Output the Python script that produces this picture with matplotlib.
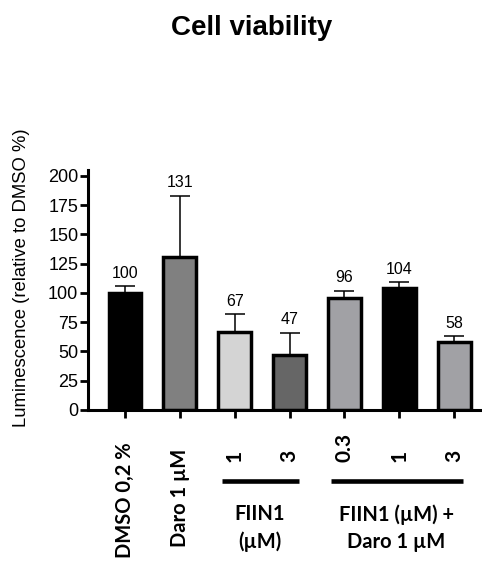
import matplotlib.pyplot as plt
from matplotlib import transforms
import numpy as np

# data
conditions = ["DMSO 0,2 %", "Daro 1 \u00b5M", "1", "3", "0.3", "1", "3"]
means = [100, 131, 67, 47, 96, 104, 58]
sd_up = [6, 52, 15, 19, 6, 5, 5]
bar_colors = ["#000000", "#808080", "#d4d4d4", "#666666", "#a1a1a5", "#000000", "#a1a1a5"]
groups = [("FIIN1\n(\u00b5M)", 2, 3), ("FIIN1 (\u00b5M) +\nDaro 1 \u00b5M", 4, 6)]
y_ticks = [0, 25, 50, 75, 100, 125, 150, 175, 200]

plt.rcParams['font.family'] = ['Liberation Sans', 'DejaVu Sans']
LABEL_FONT = ['Lato', 'DejaVu Sans']

fig = plt.figure(figsize=(4.82, 5.61), dpi=100)
ax = fig.add_axes([88/482, 1 - 410/561, 393/482, 240/561])

x = np.arange(len(means))
ax.bar(x, means, width=0.6, color=bar_colors, edgecolor="black", linewidth=2.5, zorder=2)
ax.errorbar(x, means, yerr=[np.zeros(len(means)), sd_up], fmt="none", ecolor="black",
            elinewidth=1.1, capsize=7.5, capthick=1.1, zorder=1)

for xi, m, e in zip(x, means, sd_up):
    ax.annotate(str(m), (xi, m + e), xytext=(0, 6), textcoords="offset points",
                ha="center", va="baseline", fontsize=11.5)

ax.set_xlim(-0.675, 6.49)
ax.set_ylim(0, 205)
ax.set_yticks(y_ticks)
ax.set_xticks(x)
ax.set_xticklabels([])
ax.tick_params(axis="y", labelsize=13, length=6, width=2, pad=1)
ax.tick_params(axis="x", length=6, width=2)
for s in ["top", "right"]:
    ax.spines[s].set_visible(False)
for s in ["left", "bottom"]:
    ax.spines[s].set_linewidth(2.2)

ax.set_ylabel("Luminescence (relative to DMSO %)", fontsize=13.3)
ax.yaxis.set_label_coords(-0.148, 0.55)

# condition labels below the axis
trans = transforms.blended_transform_factory(ax.transData, ax.transAxes)
for i, lab in enumerate(conditions):
    if i < 2:
        off = transforms.ScaledTranslation(0, -(32 + 7 * i) / 100, fig.dpi_scale_trans)
        ax.text(x[i], 0, lab, rotation=90, ha="center", va="top", fontsize=14.5,
                fontweight="bold", family=LABEL_FONT, transform=trans + off)
    else:
        off = transforms.ScaledTranslation(0, -52 / 100, fig.dpi_scale_trans)
        ax.text(x[i], 0, lab, rotation=90, ha="center", va="bottom", fontsize=15,
                fontweight="bold", family=LABEL_FONT, transform=trans + off)

# group brackets
line_off = transforms.ScaledTranslation(0, -71 / 100, fig.dpi_scale_trans)
text_off = transforms.ScaledTranslation(0, -94 / 100, fig.dpi_scale_trans)
for name, a, b in groups:
    ax.plot([x[a] - 0.24, x[b] + 0.17], [0, 0], color="black", lw=3.3,
            transform=trans + line_off, clip_on=False, solid_capstyle="butt")
    ax.text((x[a] + x[b]) / 2 - 0.05, 0, name, ha="center", va="top", fontsize=14.5,
            fontweight="bold", family=LABEL_FONT, linespacing=1.45,
            transform=trans + text_off)

fig.text(252/482, 1 - 35/561, "Cell viability", ha="center", va="baseline",
         fontsize=20, fontweight="bold")

fig.savefig("out.png", dpi=100)
